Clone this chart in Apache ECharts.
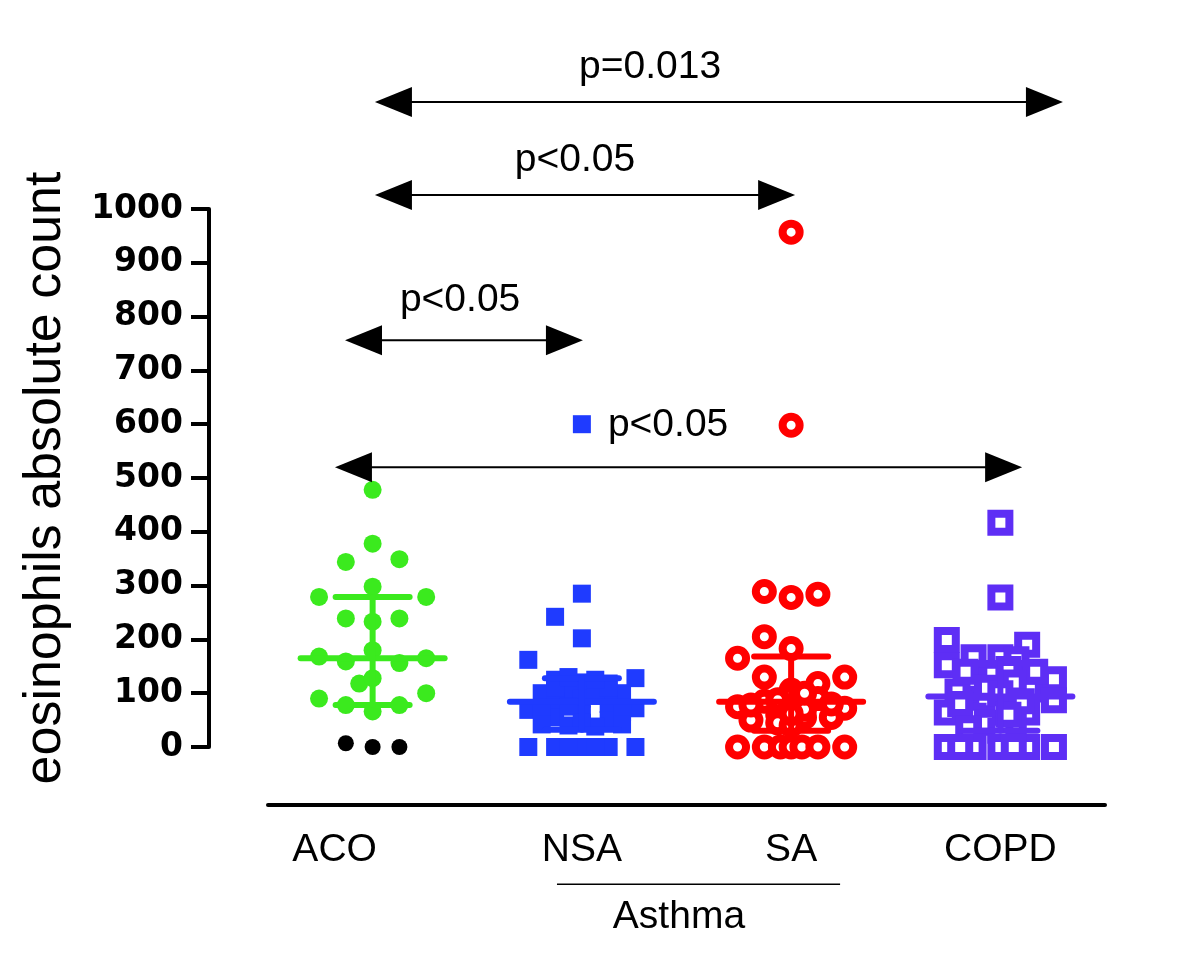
<!DOCTYPE html>
<html><head><meta charset="utf-8">
<script src="https://cdn.jsdelivr.net/npm/echarts@6/dist/echarts.min.js"></script>
<style>html,body{margin:0;padding:0;background:#fff}#c{width:1179px;height:977px}</style>
</head><body><div id="c"></div>
<script>
// ---------- data ----------
const categories = ['ACO', 'NSA', 'SA', 'COPD'];
// each point: [jitter column, eosinophil count]
const acoValues = [[0,478],[0,378],[-1,344],[1,349],[0,298],[-2,279],[2,279],[-1,239],[0,233],[1,239],[0,180],[-2,168],[-1,159],[1,156],[2,165],[-0.5,118],[0,128],[-2,90],[2,100],[-1,78],[1,78],[0,66]];
const acoLowValues = [[-1,7],[0,0],[1,0]];
const nsaValues = [[0,600],[0,285],[-1,242],[0,202],[-2,162],[2,128],[-1,125],[0,120],[1,118],[-1.5,100],[1.5,100],[-0.5,105],[0.5,105],[-2,69],[2,72],[-1,85],[0,90],[1,80],[-1,55],[0,60],[1,50],[-0.5,40],[0.5,38],[-1.5,70],[1.5,65],[-0.5,75],[0.5,95],[1,110],[-1,110],[0,45],[-1.5,42],[1.5,42],[-0.5,130],[0.5,125],[-2,0],[-1,0],[0,0],[1,0],[2,0],[-0.5,0],[0.5,0]];
const saValues = [[0,957],[0,598],[-1,289],[0,278],[1,284],[-1,205],[0,183],[-2,165],[-1,130],[1,118],[2,130],[0,106],[-2,75],[2,72],[-1,85],[1,90],[-0.5,60],[0.5,55],[-1.5,50],[1.5,55],[-0.5,45],[0,40],[0.5,70],[0,95],[-0.5,88],[0.5,100],[1.5,80],[-1.5,78],[0,62],[-2,0],[-1,0],[-0.4,0],[0,0],[0.4,0],[1,0],[2,0]];
const copdValues = [[0,417],[0,278],[-2,199],[1,190],[-2,152],[-1,167],[0,167],[0.6,163],[2,126],[-0.3,136],[-1,123],[-1.6,103],[1.1,107],[-0.6,87],[2,87],[-2,64],[-1,58],[1,64],[0,75],[0.5,40],[-0.5,45],[0,30],[-1.3,140],[0.3,145],[1.3,140],[-0.5,110],[0.5,120],[0,100],[-1.5,80],[0.8,85],[-1.2,35],[0.3,60],[-2,0],[-1,0],[0,0],[1,0],[2,0],[-1.5,0],[0.5,0]];
const medians = [165, 84, 84, 94];
const q1s = [78, 32, 30, 30];
const q3s = [279, 128, 168, 156];
// significance brackets
const pLabels = ['p=0.013', 'p<0.05', 'p<0.05', 'p<0.05'];
const pFrom = [1.011, 1.011, 0.868, 0.820];
const pTo = [4.299, 3.019, 2.005, 4.104];
const pArrowY = [1199, 1026, 756, 520];
const pLabelX = [2.326, 1.967, 1.418, 2.412];
const pLabelY = [1264, 1091, 831, 598];
const groupName = 'Asthma';
const groupFrom = 1.881, groupTo = 3.234, groupLineY = -255, groupLabelY = -316, groupLabelX = 2.464;

// ---------- styles ----------
const colors = ['#3BEA1E', '#1F3BFF', '#FF0000', '#5E2EF5'];
const jitterStep = 0.128;
const FONT = 'Liberation Sans';

function place(arr, gi) { return arr.map(([c, v]) => [gi + c * jitterStep, v]); }

function renderStats(params, api) {
  const x = api.value(0), med = api.value(1), q1 = api.value(2), q3 = api.value(3);
  const c = colors[params.dataIndex];
  const pm = api.coord([x, med]), p1 = api.coord([x, q1]), p3 = api.coord([x, q3]);
  const st = { stroke: c, lineWidth: 6, lineCap: 'round' };
  return { type: 'group', children: [
    { type: 'line', shape: { x1: pm[0] - 72, y1: pm[1], x2: pm[0] + 72, y2: pm[1] }, style: st },
    { type: 'line', shape: { x1: p1[0] - 37, y1: p1[1], x2: p1[0] + 37, y2: p1[1] }, style: st },
    { type: 'line', shape: { x1: p3[0] - 37, y1: p3[1], x2: p3[0] + 37, y2: p3[1] }, style: st },
    { type: 'line', shape: { x1: p1[0], y1: p1[1], x2: p3[0], y2: p3[1] }, style: st }
  ]};
}

function renderBrackets(params, api) {
  const i = params.dataIndex;
  const a = api.coord([api.value(0), api.value(2)]);
  const b = api.coord([api.value(1), api.value(2)]);
  const t = api.coord([api.value(3), api.value(4)]);
  const L = 37, H = 15;
  return { type: 'group', children: [
    { type: 'line', shape: { x1: a[0] + L - 2, y1: a[1], x2: b[0] - L + 2, y2: b[1] }, style: { stroke: '#000', lineWidth: 2 } },
    { type: 'polygon', shape: { points: [[a[0], a[1]], [a[0] + L, a[1] - H], [a[0] + L, a[1] + H]] }, style: { fill: '#000' } },
    { type: 'polygon', shape: { points: [[b[0], b[1]], [b[0] - L, b[1] - H], [b[0] - L, b[1] + H]] }, style: { fill: '#000' } },
    { type: 'text', style: { text: pLabels[i], x: t[0], y: t[1], align: 'center', verticalAlign: 'middle', fontSize: 39, fontFamily: FONT, fill: '#000' } }
  ]};
}

function renderGroup(params, api) {
  const a = api.coord([api.value(0), api.value(2)]);
  const b = api.coord([api.value(1), api.value(2)]);
  const t = api.coord([api.value(3), api.value(4)]);
  return { type: 'group', children: [
    { type: 'line', shape: { x1: a[0], y1: a[1], x2: b[0], y2: b[1] }, style: { stroke: '#000', lineWidth: 1.5 } },
    { type: 'text', style: { text: groupName, x: t[0], y: t[1], align: 'center', verticalAlign: 'middle', fontSize: 39, fontFamily: FONT, fill: '#000' } }
  ]};
}

const chart = echarts.init(document.getElementById('c'), null, { renderer: 'canvas' });
chart.setOption({
  animation: false,
  backgroundColor: '#fff',
  grid: { left: 268, right: 74, top: 209, bottom: 230, containLabel: false },
  xAxis: [
    {
      type: 'category', gridIndex: 0, position: 'bottom', offset: 58,
      data: categories.map((c, i) => i === 0 ? { value: c, textStyle: { padding: [0, 76, 0, 0] } } : c),
      boundaryGap: true,
      axisLine: { show: true, onZero: false, lineStyle: { color: '#000', width: 4 } },
      axisTick: { show: false },
      axisLabel: { color: '#000', fontSize: 39, fontFamily: FONT, margin: 26, interval: 0 },
      splitLine: { show: false }
    },
    { type: 'value', gridIndex: 0, min: 0.5, max: 4.5, show: false }
  ],
  yAxis: {
    type: 'value', min: 0, max: 1000, interval: 100, position: 'left', offset: 59,
    name: 'eosinophils absolute count', nameLocation: 'middle', nameGap: 137, nameRotate: 90,
    nameTextStyle: { color: '#000', fontSize: 52, fontFamily: FONT },
    axisLine: { show: true, onZero: false, lineStyle: { color: '#000', width: 4 } },
    axisTick: { show: true, length: 18, lineStyle: { color: '#000', width: 4 } },
    axisLabel: { color: '#000', fontSize: 33, fontWeight: 'bold', fontFamily: 'DejaVu Sans', margin: 26, formatter: v => String(v) },
    splitLine: { show: false }
  },
  series: [
    { type: 'scatter', xAxisIndex: 1, symbol: 'circle', symbolSize: 18, itemStyle: { color: colors[0], opacity: 1 }, data: place(acoValues, 1) },
    { type: 'scatter', xAxisIndex: 1, symbol: 'circle', symbolSize: 16, itemStyle: { color: '#000', opacity: 1 }, data: place(acoLowValues, 1) },
    { type: 'scatter', xAxisIndex: 1, symbol: 'rect', symbolSize: 18, itemStyle: { color: colors[1], opacity: 1 }, data: place(nsaValues, 2) },
    { type: 'scatter', xAxisIndex: 1, symbol: 'circle', symbolSize: 17, itemStyle: { color: '#fff', borderColor: colors[2], borderWidth: 8, opacity: 1 }, data: place(saValues, 3) },
    { type: 'scatter', xAxisIndex: 1, symbol: 'rect', symbolSize: 18, itemStyle: { color: '#fff', borderColor: colors[3], borderWidth: 8, opacity: 1 }, data: place(copdValues, 4) },
    { type: 'custom', xAxisIndex: 1, z: 5, clip: false, renderItem: renderStats,
      data: medians.map((m, i) => [i + 1, m, q1s[i], q3s[i]]) },
    { type: 'custom', xAxisIndex: 1, z: 10, clip: false, renderItem: renderBrackets,
      data: pLabels.map((_, i) => [pFrom[i], pTo[i], pArrowY[i], pLabelX[i], pLabelY[i]]) },
    { type: 'custom', xAxisIndex: 1, z: 10, clip: false, renderItem: renderGroup,
      data: [[groupFrom, groupTo, groupLineY, groupLabelX, groupLabelY]] }
  ]
});
</script>
</body></html>
